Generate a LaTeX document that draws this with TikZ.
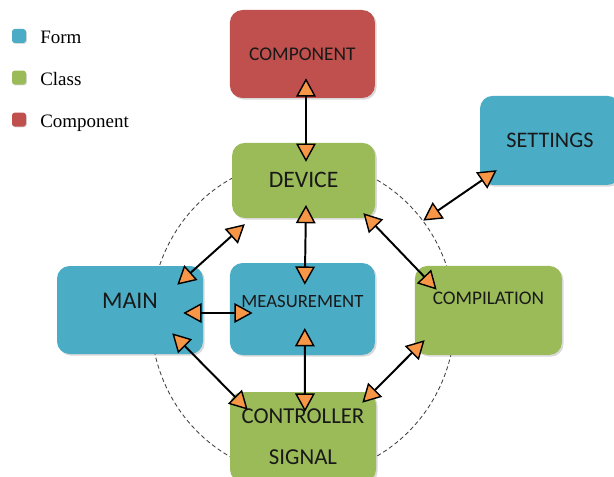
\documentclass[tikz,border=0pt]{standalone}
\usepackage{fontspec}
\newfontfamily\boxfont{Carlito}
\newfontfamily\legfont{Liberation Serif}
\usetikzlibrary{arrows.meta,shapes.geometric,shadows}
\definecolor{formblue}{HTML}{4BACC6}
\definecolor{classgreen}{HTML}{9BBB59}
\definecolor{compred}{HTML}{C0504D}
\definecolor{tiporange}{HTML}{F79646}
\newcommand{\bsize}[1]{\fontsize{#1}{#1}\selectfont}
\tikzset{
  blk/.style={rounded corners=9pt, inner sep=2pt, align=center, text=black!90,
              drop shadow={shadow xshift=1.2pt, shadow yshift=-1.2pt, opacity=0.3}},
  formblk/.style={blk, fill=formblue},
  classblk/.style={blk, fill=classgreen},
  compblk/.style={blk, fill=compred},
  link/.style={{Triangle[length=13pt, width=14pt, fill=tiporange, line width=1pt]}-{Triangle[length=13pt, width=14pt, fill=tiporange, line width=1pt]},
               black, line width=1.4pt},
  ring/.style={ellipse, draw=black!75, dash pattern=on 3pt off 2pt, line width=0.6pt, inner sep=0pt},
  legsq/.style={rounded corners=2pt, minimum size=0.35cm, inner sep=0pt,
                drop shadow={shadow xshift=0.6pt, shadow yshift=-0.6pt, opacity=0.3}},
  legtxt/.style={font=\legfont\bsize{13.5pt}, anchor=base west, inner sep=0pt},
}

\begin{document}
\begin{tikzpicture}
  \useasboundingbox (0,0) rectangle (15.35,-11.925);
  % dashed ring behind the boxes
  \node[ring, minimum width=7.6cm, minimum height=7.9cm] (ring) at (7.575,-7.95) {};
  % legend
  \foreach \col/\txt/\y in {formblue/Form/0.9, classgreen/Class/1.94, compred/Component/2.99}{
    \node[legsq, fill=\col] (sq\txt) at (0.475,-\y) {};
    \node[legtxt] (lab\txt) at (1.0,{-\y-0.2}) {\txt};
  }
  % boxes
  \node[compblk, minimum width=3.625cm, minimum height=2.2cm, font=\boxfont\bsize{13.8pt}] (component) at (7.56,-1.35) {COMPONENT};
  \node[classblk, minimum width=3.575cm, minimum height=1.875cm, font=\boxfont\bsize{16.8pt}] (device) at (7.59,-4.51) {DEVICE};
  \node[formblk, minimum width=3.5cm, minimum height=2.225cm, font=\boxfont\bsize{15.8pt}] (settings) at (13.75,-3.51) {SETTINGS};
  \node[formblk, minimum width=3.65cm, minimum height=2.2cm, font=\boxfont\bsize{17pt}, text depth=0.45cm] (mainbox) at (3.25,-7.75) {MAIN};
  \node[formblk, minimum width=3.625cm, minimum height=2.3cm, font=\boxfont\bsize{13.3pt}, text depth=0.4cm] (measure) at (7.56,-7.725) {MEASUREMENT};
  \node[classblk, minimum width=3.675cm, minimum height=2.225cm, font=\boxfont\bsize{13.7pt}, text depth=0.6cm] (compilation) at (12.21,-7.76) {COMPILATION};
  \node[classblk, minimum width=3.65cm, minimum height=2.25cm, font=\boxfont\bsize{16.2pt}] (controller) at (7.575,-10.925) {CONTROLLER\\[13pt]SIGNAL};
  % links
  \draw[link] ([shift={(0.09,0.5)}]component.south) -- ([shift={(0.06,-0.48)}]device.north);
  \draw[link] ([shift={(0.06,0.33)}]device.south) -- ([shift={(0.06,-0.55)}]measure.north);
  \draw[link] ([shift={(0.06,0.68)}]measure.south) -- ([shift={(0.05,-0.5)}]controller.north);
  \draw[link] ([shift={(-0.5,-0.075)}]mainbox.east) -- ([shift={(0.575,-0.1)}]measure.west);
  \draw[link] ([shift={(-0.65,-0.475)}]mainbox.north east) -- ([shift={(0.325,-0.15)}]device.south west);
  \draw[link] ([shift={(-0.775,0.525)}]mainbox.south east) -- ([shift={(0.45,-0.45)}]controller.north west);
  \draw[link] ([shift={(-0.3,0.125)}]device.south east) -- ([shift={(0.55,-0.6)}]compilation.north west);
  \draw[link] ([shift={(0.25,0.375)}]compilation.south west) -- ([shift={(-0.35,-0.275)}]controller.north east);
  \draw[link] ([shift={(0.425,0.375)}]settings.south west) -- (ring.39);
\end{tikzpicture}
\end{document}
